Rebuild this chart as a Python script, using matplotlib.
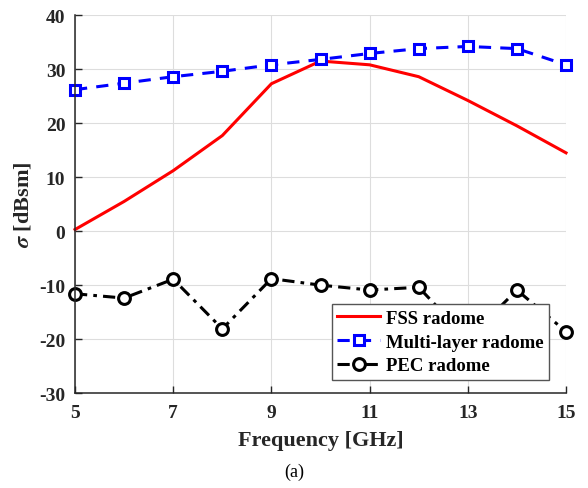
import numpy as np
import matplotlib
matplotlib.use('Agg')
from matplotlib import pyplot as plt

freq = [5, 6, 7, 8, 9, 10, 11, 12, 13, 14, 15]
fss = [0.3, 5.5, 11.2, 17.7, 27.3, 31.5, 30.8, 28.6, 24.2, 19.5, 14.5]
multi = [26.2, 27.4, 28.6, 29.6, 30.8, 31.8, 32.9, 33.8, 34.2, 33.8, 30.8]
pec = [-11.6, -12.4, -8.9, -18.1, -8.8, -10.0, -10.9, -10.4, -20.0, -10.9, -18.6]
xticks = [5, 7, 9, 11, 13, 15]
yticks = [-30, -20, -10, 0, 10, 20, 30, 40]

plt.rcParams['font.family'] = ['Liberation Serif', 'DejaVu Serif']
plt.rcParams['font.weight'] = 'bold'
plt.rcParams['axes.unicode_minus'] = False
plt.rcParams['mathtext.fontset'] = 'stix'

fig = plt.figure(figsize=(5.88, 4.89), dpi=100)
ax = fig.add_axes([0.1276, 0.194, 0.835, 0.773])

ax.plot(freq, fss, '-', color='red', lw=2.2, label='FSS radome', clip_on=False)
ax.plot(freq, multi, '--', color='blue', lw=2.2, marker='s', ms=7, mfc='white', mew=2.2,
        dashes=(4, 3), label='Multi-layer radome', clip_on=False)
ax.plot(freq, pec, '-.', color='black', lw=2.2, marker='o', ms=8.5, mfc='white', mew=2.2,
        dashes=(4, 2, 1.2, 2), label='PEC radome', clip_on=False)

ax.set_xlim(5, 15)
ax.set_ylim(-30, 40)
ax.set_xticks(xticks)
ax.set_yticks(yticks)
ax.tick_params(direction='in', labelsize=14, length=5, width=1, colors='#262626')
ax.tick_params(axis='x', pad=8)
ax.tick_params(axis='y', pad=7)
ax.grid(True, color='#dddddd', lw=0.8)
ax.set_axisbelow(True)
for s in ['top', 'right']:
    ax.spines[s].set_visible(False)
for s in ['left', 'bottom']:
    ax.spines[s].set_color('#262626')
    ax.spines[s].set_linewidth(1.1)
ax.set_xlabel('Frequency [GHz]', fontsize=16, fontweight='bold', labelpad=6, color='#262626')
ax.set_ylabel(r'$\sigma$ [dBsm]', fontsize=16, fontweight='bold', labelpad=4, color='#262626')

leg = ax.legend(loc='lower right', fontsize=13.5, frameon=True, fancybox=False, framealpha=1,
                edgecolor='#555555', handlelength=2.3, borderpad=0.3, labelspacing=0.35,
                handletextpad=0.3, bbox_to_anchor=(0.985, 0.01))
leg.get_frame().set_linewidth(1.0)
leg.set_zorder(10)

fig.text(0.5, 0.025, '(a)', ha='center', fontsize=13, fontweight='normal')

fig.savefig('out.png', dpi=100)
